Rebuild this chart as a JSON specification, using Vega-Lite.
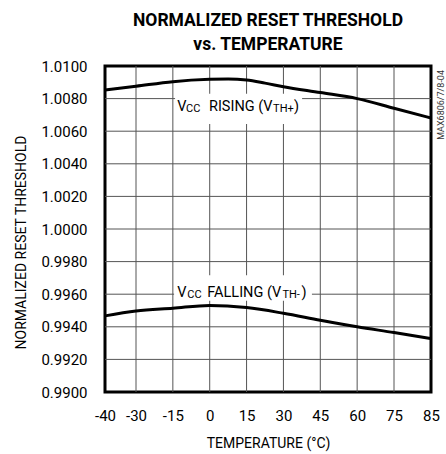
{
  "$schema": "https://vega.github.io/schema/vega-lite/v6.json",
  "width": 326,
  "height": 326,
  "autosize": {"type": "none"},
  "padding": {"left": 105, "top": 66, "right": 15, "bottom": 62},
  "background": "white",
  "title": {
    "text": ["NORMALIZED RESET THRESHOLD", "vs. TEMPERATURE"],
    "fontSize": 17.5,
    "fontWeight": "bold",
    "font": "Roboto",
    "lineHeight": 24,
    "offset": 6,
    "anchor": "middle",
    "color": "black"
  },
  "config": {
    "view": {"stroke": "black", "strokeWidth": 3},
    "font": "Roboto",
    "axis": {
      "labelFont": "Roboto",
      "titleFont": "Roboto",
      "labelColor": "black",
      "titleColor": "black",
      "labelFontSize": 15,
      "titleFontSize": 14,
      "titleFontWeight": "normal",
      "ticks": false,
      "tickSize": 0,
      "domain": false,
      "grid": false,
      "labelFlush": false,
      "labelOverlap": false
    }
  },
  "datasets": {
    "gridlines": [
      {"g": "x-30", "t": -30, "v": 0.99}, {"g": "x-30", "t": -30, "v": 1.01},
      {"g": "x-15", "t": -15, "v": 0.99}, {"g": "x-15", "t": -15, "v": 1.01},
      {"g": "x0", "t": 0, "v": 0.99}, {"g": "x0", "t": 0, "v": 1.01},
      {"g": "x15", "t": 15, "v": 0.99}, {"g": "x15", "t": 15, "v": 1.01},
      {"g": "x30", "t": 30, "v": 0.99}, {"g": "x30", "t": 30, "v": 1.01},
      {"g": "x45", "t": 45, "v": 0.99}, {"g": "x45", "t": 45, "v": 1.01},
      {"g": "x60", "t": 60, "v": 0.99}, {"g": "x60", "t": 60, "v": 1.01},
      {"g": "x75", "t": 75, "v": 0.99}, {"g": "x75", "t": 75, "v": 1.01},
      {"g": "y0.992", "t": -40, "v": 0.992}, {"g": "y0.992", "t": 85, "v": 0.992},
      {"g": "y0.994", "t": -40, "v": 0.994}, {"g": "y0.994", "t": 85, "v": 0.994},
      {"g": "y0.996", "t": -40, "v": 0.996}, {"g": "y0.996", "t": 85, "v": 0.996},
      {"g": "y0.998", "t": -40, "v": 0.998}, {"g": "y0.998", "t": 85, "v": 0.998},
      {"g": "y1.000", "t": -40, "v": 1.0}, {"g": "y1.000", "t": 85, "v": 1.0},
      {"g": "y1.002", "t": -40, "v": 1.002}, {"g": "y1.002", "t": 85, "v": 1.002},
      {"g": "y1.004", "t": -40, "v": 1.004}, {"g": "y1.004", "t": 85, "v": 1.004},
      {"g": "y1.006", "t": -40, "v": 1.006}, {"g": "y1.006", "t": 85, "v": 1.006},
      {"g": "y1.008", "t": -40, "v": 1.008}, {"g": "y1.008", "t": 85, "v": 1.008}
    ],
    "curves": [
      {"series": "rising", "t": -40, "v": 1.00853},
      {"series": "rising", "t": -30, "v": 1.00876},
      {"series": "rising", "t": -15, "v": 1.00904},
      {"series": "rising", "t": 0, "v": 1.00918},
      {"series": "rising", "t": 7.5, "v": 1.0092},
      {"series": "rising", "t": 15, "v": 1.00914},
      {"series": "rising", "t": 22.5, "v": 1.00895},
      {"series": "rising", "t": 30, "v": 1.00873},
      {"series": "rising", "t": 45, "v": 1.00837},
      {"series": "rising", "t": 60, "v": 1.008},
      {"series": "rising", "t": 75, "v": 1.00741},
      {"series": "rising", "t": 85, "v": 1.00681},
      {"series": "falling", "t": -40, "v": 0.99467},
      {"series": "falling", "t": -30, "v": 0.99497},
      {"series": "falling", "t": -15, "v": 0.99514},
      {"series": "falling", "t": 0, "v": 0.99531},
      {"series": "falling", "t": 15, "v": 0.99518},
      {"series": "falling", "t": 30, "v": 0.99483},
      {"series": "falling", "t": 45, "v": 0.9944},
      {"series": "falling", "t": 60, "v": 0.994},
      {"series": "falling", "t": 75, "v": 0.99365},
      {"series": "falling", "t": 85, "v": 0.99328}
    ],
    "boxes": [
      {"series": "rising", "t1": -14.1, "t2": 37.6, "v1": 1.0083, "v2": 1.00644},
      {"series": "falling", "t1": -14.5, "t2": 41.6, "v1": 0.99716, "v2": 0.9956}
    ],
    "labels": [
      {"series": "rising", "t": -13.2, "v": 1.00724, "text": "V", "sub": false},
      {"series": "rising", "t": -9.65, "v": 1.00718, "text": "CC", "sub": true},
      {"series": "rising", "t": -0.3, "v": 1.00724, "text": "RISING (V", "sub": false},
      {"series": "rising", "t": 25.8, "v": 1.00718, "text": "TH+", "sub": true},
      {"series": "rising", "t": 34.3, "v": 1.00724, "text": ")", "sub": false},
      {"series": "falling", "t": -13.2, "v": 0.99583, "text": "V", "sub": false},
      {"series": "falling", "t": -9.1, "v": 0.99577, "text": "CC", "sub": true},
      {"series": "falling", "t": -1.0, "v": 0.99583, "text": "FALLING (V", "sub": false},
      {"series": "falling", "t": 29.6, "v": 0.99577, "text": "TH-", "sub": true},
      {"series": "falling", "t": 37.4, "v": 0.99583, "text": ")", "sub": false}
    ],
    "code": [
      {"t": 85, "v": 1.01, "text": "MAX6806/7/8-04"}
    ]
  },
  "layer": [
    {
      "data": {"name": "gridlines"},
      "mark": {"type": "line", "color": "#555555", "strokeWidth": 1},
      "encoding": {
        "x": {
          "field": "t", "type": "quantitative",
          "scale": {"domain": [-40, -30, 75, 85], "range": [0, 31, 289, 326], "nice": false, "zero": false}
        },
        "y": {
          "field": "v", "type": "quantitative",
          "scale": {"domain": [0.99, 1.01], "nice": false, "zero": false}
        },
        "detail": {"field": "g"}
      }
    },
    {
      "data": {"name": "boxes"},
      "mark": {"type": "rect", "fill": "white", "stroke": null},
      "encoding": {
        "x": {"field": "t1", "type": "quantitative"},
        "x2": {"field": "t2"},
        "y": {"field": "v1", "type": "quantitative"},
        "y2": {"field": "v2"}
      }
    },
    {
      "data": {"name": "curves"},
      "mark": {"type": "line", "color": "black", "strokeWidth": 3, "interpolate": "monotone"},
      "encoding": {
        "x": {
          "field": "t", "type": "quantitative",
          "axis": {
            "values": [-40, -30, -15, 0, 15, 30, 45, 60, 75, 85],
            "tickCount": 30,
            "labelExpr": "'' + datum.value",
            "title": "TEMPERATURE (°C)",
            "labelBaseline": "alphabetic",
            "labelAlign": "center",
            "labelPadding": 28,
            "titleX": 163,
            "titleY": 55,
            "titleBaseline": "alphabetic",
            "titleAlign": "center"
          }
        },
        "y": {
          "field": "v", "type": "quantitative",
          "axis": {
            "values": [0.99, 0.992, 0.994, 0.996, 0.998, 1.0, 1.002, 1.004, 1.006, 1.008, 1.01],
            "tickCount": 30,
            "format": ".4f",
            "title": "NORMALIZED RESET THRESHOLD",
            "labelPadding": 18,
            "labelBaseline": "middle",
            "titleAngle": 270,
            "titleX": -80,
            "titleY": 176,
            "titleBaseline": "alphabetic",
            "titleAlign": "center"
          }
        },
        "detail": {"field": "series"}
      }
    },
    {
      "data": {"name": "labels"},
      "transform": [{"filter": "!datum.sub"}],
      "mark": {"type": "text", "align": "left", "baseline": "alphabetic", "fontSize": 14.5, "color": "black"},
      "encoding": {
        "x": {"field": "t", "type": "quantitative"},
        "y": {"field": "v", "type": "quantitative"},
        "text": {"field": "text"}
      }
    },
    {
      "data": {"name": "labels"},
      "transform": [{"filter": "datum.sub"}],
      "mark": {"type": "text", "align": "left", "baseline": "alphabetic", "fontSize": 11, "color": "black"},
      "encoding": {
        "x": {"field": "t", "type": "quantitative"},
        "y": {"field": "v", "type": "quantitative"},
        "text": {"field": "text"}
      }
    },
    {
      "data": {"name": "code"},
      "mark": {"type": "text", "align": "right", "baseline": "alphabetic", "angle": 270, "dx": -4, "dy": 13, "fontSize": 9, "color": "#333333"},
      "encoding": {
        "x": {"field": "t", "type": "quantitative"},
        "y": {"field": "v", "type": "quantitative"},
        "text": {"field": "text"}
      }
    }
  ]
}
